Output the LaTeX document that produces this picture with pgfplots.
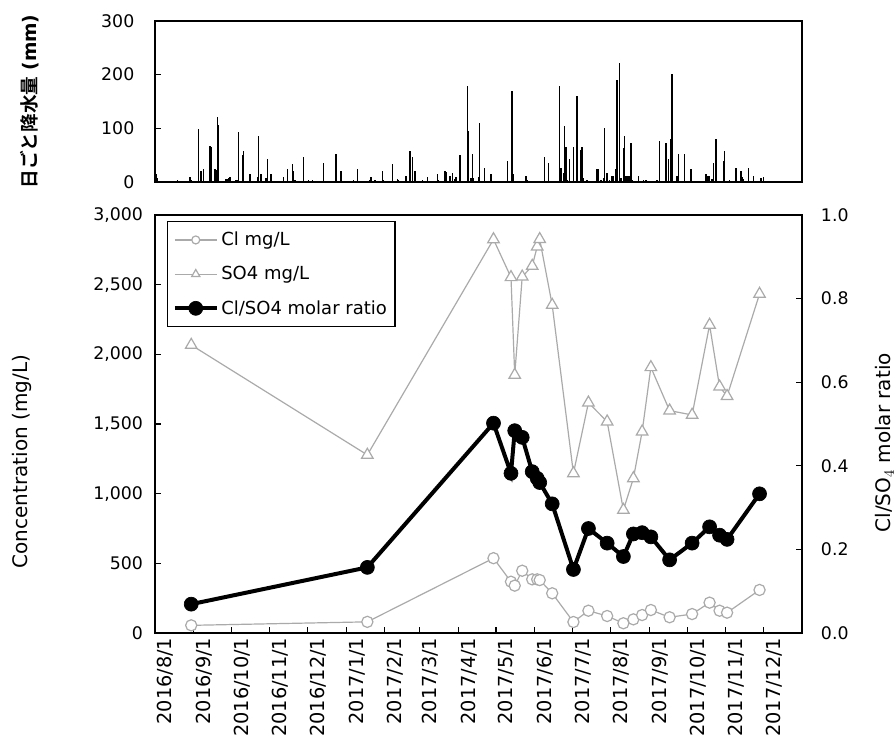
\documentclass[border=0pt]{standalone}
\usepackage{fontspec}
\setmainfont{DejaVu Sans}
\newfontfamily\jp[BoldFont={Noto Sans CJK JP Bold}]{Noto Sans CJK JP}
\usepackage{pgfplots}
\usepackage{pgfplotstable}
\pgfplotsset{compat=1.18}
\definecolor{lg}{RGB}{170,170,170}

\pgfplotstableread{
day Cl SO4 ratio
29 55 2067 0.069
170 80 1278 0.157
271 537 2825 0.502
285 368 2553 0.382
288 340 1852 0.484
294 447 2557 0.468
302 385 2634 0.386
306 385 2773 0.370
308 380 2826 0.360
318 285 2354 0.309
335 79 1146 0.152
347 160 1653 0.250
362 122 1517 0.215
375 70 883 0.183
383 98 1110 0.237
390 129 1445 0.240
397 165 1907 0.230
412 113 1596 0.175
430 136 1565 0.215
444 218 2211 0.254
452 160 1768 0.234
458 146 1700 0.224
484 309 2433 0.333
}\samples

\pgfplotstableread{
day rain
1 14
2 8
18 4
28 9
29 4
35 98
37 20
39 24
44 68
45 66
48 24
49 22
50 122
51 107
57 6
58 6
59 8
60 9
65 3
66 3
67 93
70 50
71 57
76 15
82 9
83 86
85 15
89 7
90 42
93 15
103 9
106 24
110 33
111 21
112 3
119 47
123 3
126 3
135 36
145 53
149 21
159 3
162 24
172 4
173 9
176 3
182 21
183 3
190 33
194 6
195 4
201 12
204 57
206 47
208 21
214 3
218 9
226 15
227 3
232 21
233 18
236 12
238 17
240 6
241 9
244 50
250 179
251 95
253 7
254 53
255 8
259 9
260 110
264 27
269 14
282 39
286 170
287 15
297 12
298 4
312 47
315 36
324 179
325 27
327 17
328 104
329 66
330 4
332 42
335 66
338 161
341 60
342 66
343 7
346 3
354 24
355 24
357 3
359 7
360 101
362 17
364 4
366 12
367 12
369 24
370 190
372 222
373 8
375 63
376 86
377 12
378 12
379 12
380 12
381 72
382 3
387 12
391 3
393 3
402 3
404 77
409 72
411 42
413 80
414 202
418 12
419 53
424 53
429 24
441 15
442 12
443 12
444 12
446 6
447 36
449 80
455 39
456 57
460 3
465 27
469 20
470 9
471 6
475 27
479 12
485 7
487 9
}\rain

\pgfplotsset{
  base/.style={
    scale only axis, width=485.25pt, xmin=0, xmax=518,
    tick align=inside, major tick length=4.5pt,
    axis line style={line width=0.9pt, black},
    tick style={line width=0.8pt, black},
    tick label style={font=\fontsize{13}{15}\selectfont},
    label style={font=\fontsize{15}{17}\selectfont},
    /pgf/number format/assume math mode=true,
  },
}

\begin{document}
\begin{tikzpicture}
% ---------- rainfall panel ----------
\begin{axis}[base,
  at={(116.25pt,-15.75pt)}, anchor=north west, height=120.75pt,
  ymin=0, ymax=300, ytick={0,100,200,300},
  xtick=\empty, ytick pos=left,
  yticklabel style={xshift=-12pt},
  ylabel={\fontsize{14}{16}\selectfont{\jp\bfseries 日ごと降水量} {\bfseries (mm)}},
  ylabel style={at={(axis description cs:-0.193,0.5)}, anchor=center},
]
\addplot[ycomb, black, line width=1.1pt, mark=none] table[x=day, y=rain] {\rain};
\end{axis}

% ---------- concentration panel (left axis) ----------
\begin{axis}[base,
  at={(116.25pt,-161.25pt)}, anchor=north west, height=313.5pt,
  ymin=0, ymax=3000, ytick={0,500,1000,1500,2000,2500,3000},
  /pgf/number format/.cd, 1000 sep={,}, /pgfplots/.cd,
  xtick={0,31,61,92,122,153,184,212,243,273,304,334,365,396,426,457,487},
  xticklabels={2016/8/1,2016/9/1,2016/10/1,2016/11/1,2016/12/1,2017/1/1,2017/2/1,2017/3/1,2017/4/1,2017/5/1,2017/6/1,2017/7/1,2017/8/1,2017/9/1,2017/10/1,2017/11/1,2017/12/1},
  xticklabel style={rotate=90, anchor=east, yshift=-8pt, font=\fontsize{14.5}{16}\selectfont},
  xtick pos=left, ytick pos=left,
  yticklabel style={xshift=-5.5pt},
  ylabel={Concentration (mg/L)},
  ylabel style={at={(axis description cs:-0.2056,0.41)}, anchor=center},
]
\addplot[lg, line width=0.9pt, mark=*, mark size=4.2pt, mark options={fill=white, draw=lg, line width=0.9pt}] table[x=day, y=Cl] {\samples};
\addplot[lg, line width=0.9pt, mark=triangle*, mark size=5pt, mark options={fill=white, draw=lg, line width=0.9pt}] table[x=day, y=SO4] {\samples};
\end{axis}

% ---------- concentration panel (right axis) ----------
\begin{axis}[base,
  at={(116.25pt,-161.25pt)}, anchor=north west, height=313.5pt,
  ymin=0, ymax=1, ytick={0,0.2,0.4,0.6,0.8,1.0},
  axis y line*=right, axis x line=none,
  yticklabel style={/pgf/number format/.cd, fixed, fixed zerofill, precision=1, /tikz/.cd, xshift=10.7pt},
  ylabel={Cl/SO$_4$ molar ratio},
  ylabel style={at={(axis description cs:1.128,0.455)}, anchor=center},
  legend style={at={(axis description cs:0.0185,0.986)}, anchor=north west,
    draw=black, line width=0.9pt, font=\fontsize{13.5}{15}\selectfont,
    inner xsep=4pt, inner ysep=6pt, row sep=10pt, cells={anchor=west}},
  legend image code/.code={%
    \draw[mark repeat=2, mark phase=2, #1] plot coordinates {(0cm,0cm) (0.55cm,0cm) (1.1cm,0cm)};},
]
\addlegendimage{lg, line width=0.9pt, mark=*, mark size=3pt, mark options={fill=white, draw=lg, line width=0.9pt}}
\addlegendentry{Cl mg/L}
\addlegendimage{lg, line width=0.9pt, mark=triangle*, mark size=3.5pt, mark options={fill=white, draw=lg, line width=0.9pt}}
\addlegendentry{SO4 mg/L}
\addplot[black, line width=3pt, mark=*, mark size=5.25pt, mark options={fill=black, line width=0.5pt}] table[x=day, y=ratio] {\samples};
\addlegendentry{Cl/SO4 molar ratio\hspace{6pt}}
\end{axis}

\pgfresetboundingbox
\path[use as bounding box] (0,0) rectangle (672pt,-561.75pt);
\end{tikzpicture}
\end{document}
